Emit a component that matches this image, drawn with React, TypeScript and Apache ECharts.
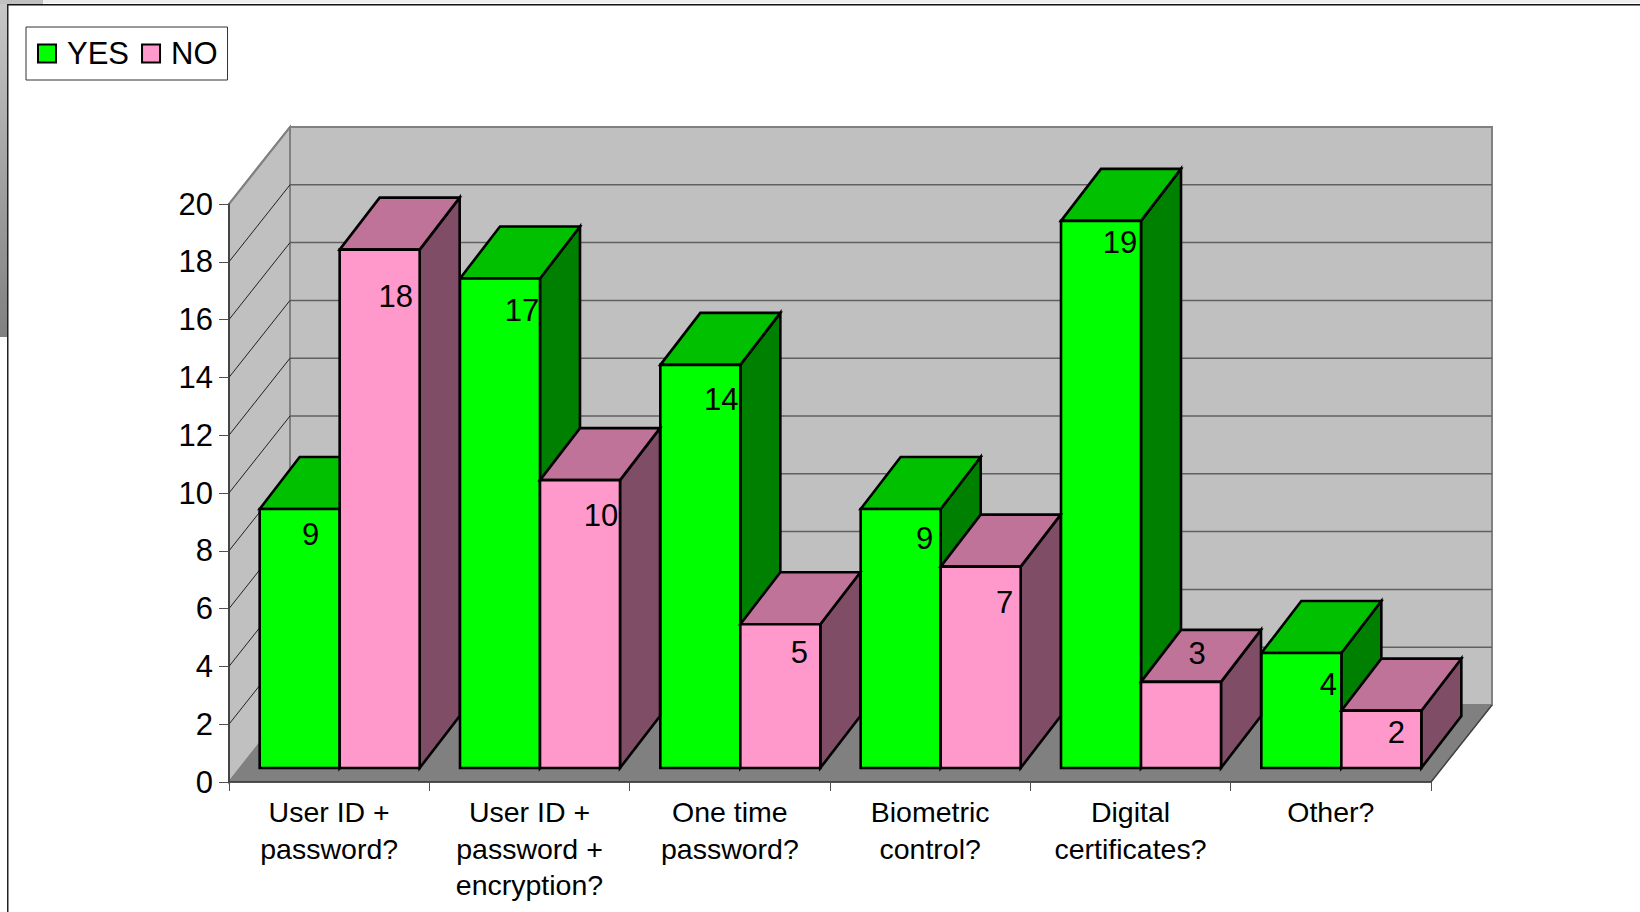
import React, { useEffect, useRef } from "react";
import * as echarts from "echarts";

const categories = [
  "User ID +\npassword?",
  "User ID +\npassword +\nencryption?",
  "One time\npassword?",
  "Biometric\ncontrol?",
  "Digital\ncertificates?",
  "Other?",
];
const yesValues = [9, 17, 14, 9, 19, 4];
const noValues = [18, 10, 5, 7, 3, 2];
const yTicks = [2, 4, 6, 8, 10, 12, 14, 16, 18, 20];

// Styling: where each data label sits relative to its bar's front-top corner
const yesLabelDx = [-29, -18, -19, -16, -21, -13];
const yesLabelDy = [26, 32, 35, 30, 22, 31];
const noLabelDx = [-24, -19, -21, -16, -24, -25];
const noLabelDy = [47, 35, 28, 36, -28, 22];

const FONT = '"Liberation Sans", Arial, sans-serif';
const WALL_DX = 61;
const WALL_DY = 77;
const BAR_SHIFT_X = 10.5;
const BAR_SHIFT_Y = 14;
const BAR_W = 80;
const BAR_DX = 40;
const BAR_DY = 52;

function renderWalls(_p: any, api: any) {
  const bw = api.size([1, 0])[0];
  const [cx0, y0] = api.coord([0, 0]);
  const [cx5] = api.coord([5, 0]);
  const yTop = api.coord([0, 20])[1];
  const L = cx0 - bw / 2;
  const R = cx5 + bw / 2;
  const children: any[] = [
    { type: "polygon", shape: { points: [[L + WALL_DX, yTop - WALL_DY], [R + WALL_DX, yTop - WALL_DY], [R + WALL_DX, y0 - WALL_DY], [L + WALL_DX, y0 - WALL_DY]] }, style: { fill: "#C0C0C0", stroke: "#808080", lineWidth: 2 } },
    { type: "polygon", shape: { points: [[L, yTop], [L + WALL_DX, yTop - WALL_DY], [L + WALL_DX, y0 - WALL_DY], [L, y0]] }, style: { fill: "#C0C0C0", stroke: "#808080", lineWidth: 2 } },
    { type: "polygon", shape: { points: [[L, y0], [L + WALL_DX, y0 - WALL_DY], [R + WALL_DX, y0 - WALL_DY], [R, y0]] }, style: { fill: "#808080", stroke: "#808080", lineWidth: 1 } },
    { type: "line", shape: { x1: R, y1: y0, x2: R + WALL_DX, y2: y0 - WALL_DY }, style: { stroke: "#404040", lineWidth: 1.5 } },
  ];
  yTicks.forEach((t) => {
    const y = api.coord([0, t])[1];
    if (t < 20) {
      children.push({ type: "line", shape: { x1: L + WALL_DX, y1: y - WALL_DY, x2: R + WALL_DX, y2: y - WALL_DY }, style: { stroke: "#606060", lineWidth: 1.5 } });
    }
    children.push({ type: "line", shape: { x1: L, y1: y, x2: L + WALL_DX, y2: y - WALL_DY }, style: t === 20 ? { stroke: "#808080", lineWidth: 2 } : { stroke: "#202020", lineWidth: 1 } });
  });
  return { type: "group", children };
}

function makeBar(offset: number, front: string, top: string, side: string, dxs: number[], dys: number[]) {
  return (_p: any, api: any) => {
    const i = api.value(0);
    const v = api.value(1);
    const [cx, yv] = api.coord([i, v]);
    const y0 = api.coord([i, 0])[1];
    const xl = cx + BAR_SHIFT_X + offset;
    const xr = xl + BAR_W;
    const yb = y0 - BAR_SHIFT_Y;
    const yt = yb - (y0 - yv) * 0.997 + 0.3;
    const line = { stroke: "#000", lineWidth: 2.6, lineJoin: "miter" };
    return {
      type: "group",
      children: [
        { type: "polygon", shape: { points: [[xr, yb], [xr + BAR_DX, yb - BAR_DY], [xr + BAR_DX, yt - BAR_DY], [xr, yt]] }, style: { fill: side, ...line } },
        { type: "polygon", shape: { points: [[xl, yt], [xl + BAR_DX, yt - BAR_DY], [xr + BAR_DX, yt - BAR_DY], [xr, yt]] }, style: { fill: top, ...line } },
        { type: "polygon", shape: { points: [[xl, yb], [xl, yt], [xr, yt], [xr, yb]] }, style: { fill: front, ...line } },
        {
          type: "text",
          x: xr + dxs[i],
          y: yt + dys[i],
          style: { text: String(v), fontFamily: FONT, fontSize: 31, fill: "#000", align: "center", verticalAlign: "middle" },
        },
      ],
    };
  };
}

export default function App() {
  const ref = useRef<HTMLDivElement>(null);
  useEffect(() => {
    const chart = echarts.init(ref.current!, null, { renderer: "svg" });
    chart.setOption({
      animation: false,
      backgroundColor: "#fff",
      grid: { left: 229, right: 209, top: 204, bottom: 130, containLabel: false },
      legend: {
        left: 26,
        top: 27,
        data: ["YES", "NO"],
        icon: "rect",
        orient: "horizontal",
        padding: [11, 10, 11, 11],
        itemGap: 12,
        itemWidth: 18,
        itemHeight: 18,
        borderColor: "#333",
        borderWidth: 1,
        textStyle: { fontFamily: FONT, fontSize: 31, color: "#000", padding: [2, 0, 0, 6] },
      },
      xAxis: {
        type: "category",
        data: categories,
        z: 10,
        axisLine: { show: true, lineStyle: { color: "#303030", width: 1.5 } },
        axisTick: { show: true, alignWithLabel: false, length: 9, lineStyle: { color: "#505050", width: 1 } },
        axisLabel: { interval: 0, fontFamily: FONT, fontSize: 28.5, color: "#000", lineHeight: 36.5, margin: 12, verticalAlign: "top" },
        splitLine: { show: false },
      },
      yAxis: {
        type: "value",
        min: 0,
        max: 20,
        interval: 2,
        z: 10,
        axisLine: { show: true, lineStyle: { color: "#303030", width: 1.5 } },
        axisTick: { show: true, length: 10, lineStyle: { color: "#505050", width: 1 } },
        axisLabel: { fontFamily: FONT, fontSize: 31, color: "#000", margin: 16 },
        splitLine: { show: false },
      },
      series: [
        { type: "custom", name: "walls", renderItem: renderWalls, data: [[0, 0]], silent: true, z: 1 },
        {
          type: "custom",
          name: "YES",
          renderItem: makeBar(-BAR_W, "#00FF00", "#00C000", "#008000", yesLabelDx, yesLabelDy),
          data: yesValues.map((v, i) => [i, v]),
          itemStyle: { color: "#00FF00", borderColor: "#000", borderWidth: 2 },
          z: 2,
        },
        {
          type: "custom",
          name: "NO",
          renderItem: makeBar(0, "#FF99CC", "#C07399", "#804D66", noLabelDx, noLabelDy),
          data: noValues.map((v, i) => [i, v]),
          itemStyle: { color: "#FF99CC", borderColor: "#000", borderWidth: 2 },
          z: 3,
        },
      ],
      graphic: [
        {
          type: "rect",
          silent: true,
          shape: { x: 0, y: 0, width: 7, height: 337 },
          style: {
            fill: new echarts.graphic.LinearGradient(0, 0, 0, 1, [
              { offset: 0, color: "#C8C8C8" },
              { offset: 1, color: "#808080" },
            ]),
          },
        },
        { type: "rect", silent: true, shape: { x: 0, y: 0, width: 43, height: 4 }, style: { fill: "#C0C0C0" } },
        { type: "rect", silent: true, shape: { x: 43, y: 0, width: 1597, height: 3 }, style: { fill: "#EEEEEE" } },
        { type: "rect", silent: true, shape: { x: 7, y: 4, width: 1633, height: 1.5 }, style: { fill: "#111" } },
        { type: "rect", silent: true, shape: { x: 7, y: 4, width: 1.5, height: 908 }, style: { fill: "#222" } },
      ],
    });
    return () => chart.dispose();
  }, []);
  return <div ref={ref} style={{ position: "fixed", left: 0, top: 0, width: 1640, height: 912 }} />;
}
